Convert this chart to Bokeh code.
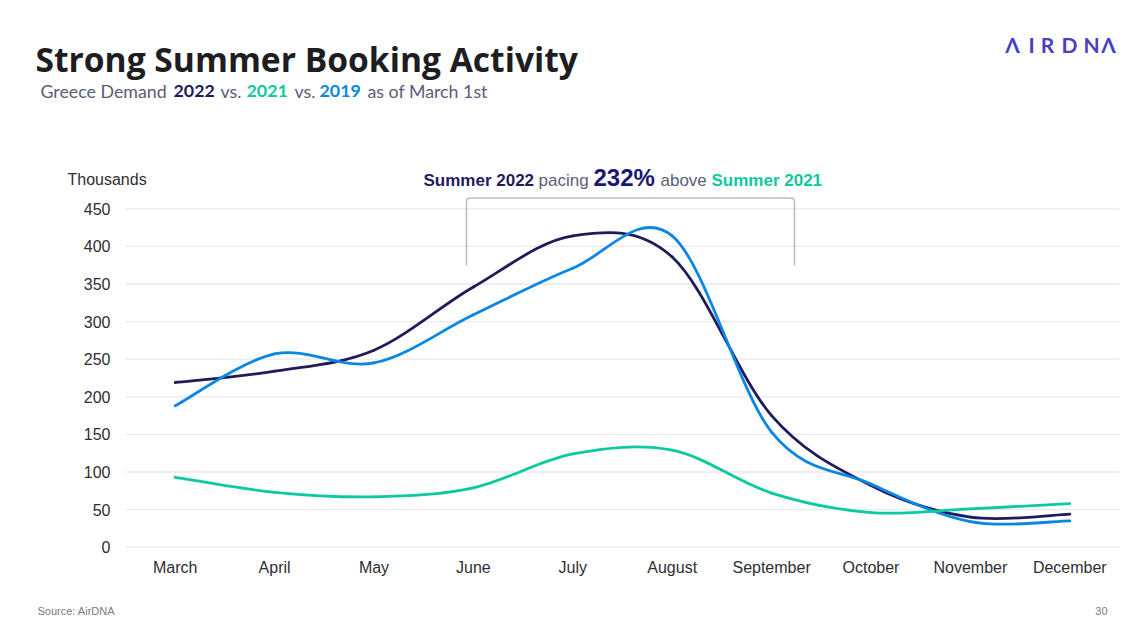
from bokeh.plotting import figure
from bokeh.models import Range1d, Label, FixedTicker
from bokeh.embed import file_html
from bokeh.resources import INLINE

# ---------------- data (thousands) ----------------
months = ["March", "April", "May", "June", "July", "August",
          "September", "October", "November", "December"]
demand_2022 = [219, 234, 262, 346, 414, 386, 175, 82, 40, 44]
demand_2021 = [93, 73, 67, 79, 124, 129, 72, 46, 51, 58]
demand_2019 = [188, 257, 245, 309, 371, 414, 153, 84, 34, 35]
y_ticks = [0, 50, 100, 150, 200, 250, 300, 350, 400, 450]

C2022 = "#1f1c5a"
C2021 = "#0cc9a1"
C2019 = "#0a86e4"
GREY = "#5c5c78"

# ---------------- layout (frame = whole canvas) ----------------
W, H = 1134, 618
PX_X = 99.4            # pixels per month
PX_Y = 338.4 / 450     # pixels per thousand
LEFT_PX, ZERO_PX = 125, 546.7
X0 = -0.5 - LEFT_PX / PX_X
X1 = X0 + W / PX_X
Y0 = -(H - ZERO_PX) / PX_Y
Y1 = Y0 + H / PX_Y


def dx(px_):
    return X0 + px_ / PX_X


def dy(py_):
    return Y0 + (H - py_) / PX_Y


p = figure(width=W, height=H, output_backend="svg", toolbar_location=None,
           x_range=Range1d(X0, X1), y_range=Range1d(Y0, Y1),
           min_border=0)
p.outline_line_color = None
p.background_fill_color = "white"
p.border_fill_color = "white"

# axes placed inside the frame
p.xaxis.fixed_location = 0
p.yaxis.fixed_location = -0.5
p.xaxis.ticker = FixedTicker(ticks=list(range(len(months))))
p.xaxis.major_label_overrides = {i: m for i, m in enumerate(months)}
p.yaxis.ticker = FixedTicker(ticks=y_ticks)
for ax in (p.xaxis, p.yaxis):
    ax.axis_line_color = None
    ax.major_tick_line_color = None
    ax.minor_tick_line_color = None
    ax.major_tick_out = 0
    ax.major_tick_in = 0
    ax.major_label_text_font = "Liberation Sans"
    ax.major_label_text_font_size = "16px"
    ax.major_label_text_color = "#2e2e33"
p.xaxis.major_label_standoff = 12
p.yaxis.major_label_standoff = 15
p.xgrid.visible = False
p.ygrid.visible = False

# horizontal grid lines limited to the plot area
p.segment(x0=[-0.5] * len(y_ticks), x1=[len(months) - 0.5] * len(y_ticks),
          y0=y_ticks, y1=y_ticks, line_color="#e9e9ee", line_width=1.3)


# smoothed lines (Catmull-Rom -> cubic Bezier through the monthly values)
def smooth(vals):
    n = len(vals)
    xs = list(range(n))
    seg = dict(x0=[], y0=[], x1=[], y1=[], cx0=[], cy0=[], cx1=[], cy1=[])
    for i in range(n - 1):
        im, ip2 = max(i - 1, 0), min(i + 2, n - 1)
        seg["x0"].append(xs[i]); seg["y0"].append(vals[i])
        seg["x1"].append(xs[i + 1]); seg["y1"].append(vals[i + 1])
        seg["cx0"].append(xs[i] + (xs[i + 1] - xs[im]) / 6)
        seg["cy0"].append(vals[i] + (vals[i + 1] - vals[im]) / 6)
        seg["cx1"].append(xs[i + 1] - (xs[ip2] - xs[i]) / 6)
        seg["cy1"].append(vals[i + 1] - (vals[ip2] - vals[i]) / 6)
    return seg


for vals, col in ((demand_2022, C2022), (demand_2019, C2019), (demand_2021, C2021)):
    s = smooth(vals)
    p.bezier(**s, line_color=col, line_width=2.8, line_cap="round")

# bracket over summer months
bl, br = 2.93, 6.23
top = dy(197.5)
bot = dy(265)
r_x = dx(473) - dx(466)
r_y = dy(197.5) - dy(204.5)
BC = "#bdbdbd"
p.line([bl, bl], [bot, top - r_y], line_color=BC, line_width=1.5)
p.bezier(x0=[bl], y0=[top - r_y], x1=[bl + r_x], y1=[top], cx0=[bl], cy0=[top],
         cx1=[bl], cy1=[top], line_color=BC, line_width=1.5)
p.line([bl + r_x, br - r_x], [top, top], line_color=BC, line_width=1.5)
p.bezier(x0=[br - r_x], y0=[top], x1=[br], y1=[top - r_y], cx0=[br], cy0=[top],
         cx1=[br], cy1=[top], line_color=BC, line_width=1.5)
p.line([br, br], [top - r_y, bot], line_color=BC, line_width=1.5)


def lab(text, px_, py_, size, color, font="Liberation Sans", style="normal",
        align="left", baseline="alphabetic"):
    if baseline == "alphabetic":
        py_ = py_ - 0.4 * size   # compensate the renderer's baseline offset
    p.add_layout(Label(x=dx(px_), y=dy(py_), text=text, text_font=font,
                       text_font_size=f"{size}px", text_color=color,
                       text_font_style=style, text_align=align,
                       text_baseline=baseline))


# title and subtitle
lab("Strong Summer Booking Activity", 35, 71.5, 33.6, "#1d1d22", font="Open Sans", style="bold")
SUB = 17.8
lab("Greece Demand", 40, 98, SUB, GREY, font="Lato")
lab("2022", 173, 98, SUB, C2022, font="Lato", style="bold")
lab("vs.", 220, 98, SUB, GREY, font="Lato")
lab("2021", 246, 98, SUB, C2021, font="Lato", style="bold")
lab("vs.", 294, 98, SUB, GREY, font="Lato")
lab("2019", 319, 98, SUB, C2019, font="Lato", style="bold")
lab("as of March 1st", 367, 98, SUB, GREY, font="Lato")

# logo
for ch, xc in zip(["Λ", "I", "R", "D", "N", "Λ"], [1012, 1031, 1047, 1069, 1091, 1108]):
    lab(ch, xc, 52, 21, "#4a3fc2", font="Lato", style="bold", align="center")

# annotation
lab("Summer 2022", 423, 186.5, 17, C2022, style="bold")
lab("pacing", 538, 186.5, 17, GREY)
lab("232%", 593, 186.5, 24, "#1a1674", style="bold")
lab("above", 660, 186.5, 17, GREY)
lab("Summer 2021", 711, 186.5, 17, C2021, style="bold")

# axis title
lab("Thousands", 67, 179, 16, "#2e2e33", baseline="middle")

# footer
lab("Source: AirDNA", 37, 610, 11, "#7a7a86", baseline="middle")
lab("30", 1107, 610, 11, "#7a7a86", align="right", baseline="middle")

open("out.html", "w").write(file_html(p, INLINE))
